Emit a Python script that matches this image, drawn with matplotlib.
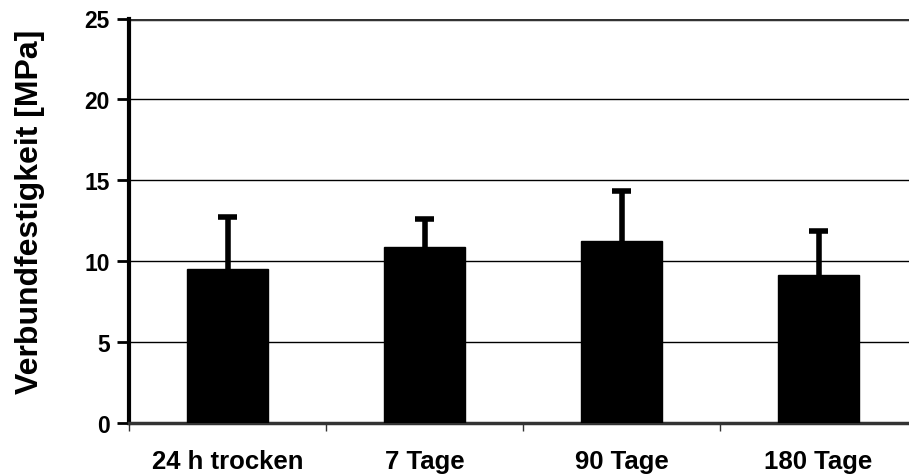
import matplotlib
matplotlib.use('Agg')
import matplotlib.pyplot as plt
import numpy as np

# mean bond strength and upper standard deviation per storage condition
labels = ['24 h trocken', '7 Tage', '90 Tage', '180 Tage']
means = [9.52, 10.88, 11.26, 9.15]
errors = [3.18, 1.70, 3.05, 2.69]
yticks = [0, 5, 10, 15, 20, 25]

plt.rcParams['font.family'] = 'Liberation Sans'
plt.rcParams['font.weight'] = 'bold'

fig = plt.figure(figsize=(9.09, 4.77), dpi=100)
ax = fig.add_axes([129/909, 1-423.7/477, 788/909, 404.2/477])

x = np.arange(len(labels))
ax.bar(x, means, width=0.416, color='black', edgecolor='black', zorder=3)

# upper error bars only, with a cap on top
tops = np.array(means) + np.array(errors)
ax.vlines(x, means, tops, color='black', linewidth=4, zorder=4)
ax.hlines(tops, x - 0.05, x + 0.05, color='black', linewidth=4, zorder=4)

ax.set_xlim(-0.5, 3.5)
ax.set_ylim(0, 25)
ax.set_yticks(yticks)
ax.set_yticklabels([str(t) for t in yticks], fontsize=16.5, fontweight='bold')
ax.set_xticks(x)
ax.set_xticklabels(labels, fontsize=18.5, fontweight='bold')

# category separators as minor ticks on the x axis
ax.set_xticks(np.arange(-0.5, 3.6, 1.0), minor=True)
ax.tick_params(axis='x', which='major', length=0, pad=19)
ax.tick_params(axis='x', which='minor', length=6, width=1, color='#333333')
ax.tick_params(axis='y', length=9, width=2, pad=5)

for t in yticks[1:-1]:
    ax.axhline(t, color='black', linewidth=1.0, zorder=1)
ax.axhline(25, color='#333333', linewidth=2.5, zorder=1)

for s in ['top', 'right']:
    ax.spines[s].set_visible(False)
ax.spines['left'].set_linewidth(3)
ax.spines['bottom'].set_linewidth(2.5)
ax.spines['bottom'].set_color('#333333')

ax.set_ylabel('Verbundfestigkeit [MPa]', fontsize=23, fontweight='bold')
ax.yaxis.set_label_coords(-0.107, 0.524)

fig.savefig('out.png', dpi=100)
